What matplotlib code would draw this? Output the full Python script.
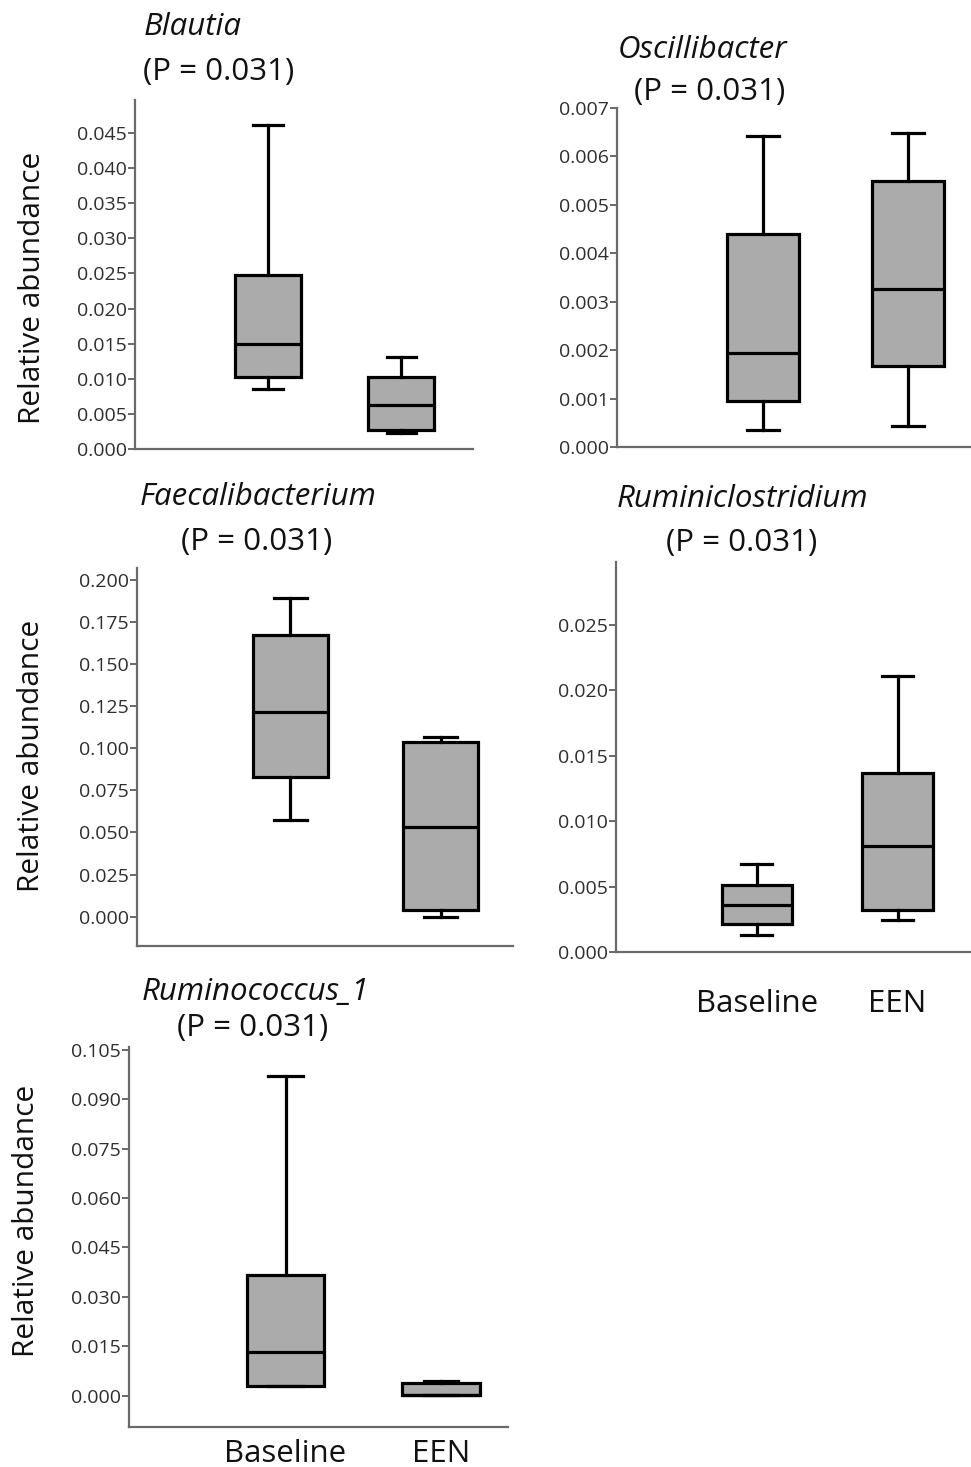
import numpy as np
import matplotlib.pyplot as plt

plt.rcParams['font.family'] = ['Open Sans', 'DejaVu Sans']

W, H = 971, 1467

groups = ["Baseline", "EEN"]
genera = ["Blautia", "Oscillibacter", "Faecalibacterium", "Ruminiclostridium", "Ruminococcus_1"]
p_label = "(P = 0.031)"

# five-number summaries: whislo, q1, median, q3, whishi
blautia_base = [0.0085, 0.0103, 0.0150, 0.0248, 0.0461]
blautia_een = [0.0023, 0.0027, 0.0063, 0.0102, 0.0131]
oscill_base = [0.00036, 0.00096, 0.00195, 0.00439, 0.00643]
oscill_een = [0.00043, 0.00167, 0.00326, 0.00549, 0.00649]
faecali_base = [0.0574, 0.0831, 0.1217, 0.1669, 0.1890]
faecali_een = [0.0000, 0.0040, 0.0534, 0.1036, 0.1065]
rumini_base = [0.00131, 0.00213, 0.00360, 0.00514, 0.00675]
rumini_een = [0.00246, 0.00320, 0.00811, 0.01371, 0.02112]
rumino_base = [0.0029, 0.0030, 0.01325, 0.0367, 0.0969]
rumino_een = [0.0001, 0.0002, 0.0002, 0.0040, 0.0044]

# y tick values per panel
yticks_blautia = [0.000, 0.005, 0.010, 0.015, 0.020, 0.025, 0.030, 0.035, 0.040, 0.045]
yticks_oscill = [0.000, 0.001, 0.002, 0.003, 0.004, 0.005, 0.006, 0.007]
yticks_faecali = [0.000, 0.025, 0.050, 0.075, 0.100, 0.125, 0.150, 0.175, 0.200]
yticks_rumini = [0.000, 0.005, 0.010, 0.015, 0.020, 0.025]
yticks_rumino = [0.000, 0.015, 0.030, 0.045, 0.060, 0.075, 0.090, 0.105]

fig = plt.figure(figsize=(W / 100, H / 100), dpi=100)


def px_axes(l, t, r, b):
    return fig.add_axes([l / W, 1 - b / H, (r - l) / W, (b - t) / H])


def px_text(x, y, s, **kw):
    fig.text(x / W, 1 - y / H, s, ha='center', va='center', **kw)


def to_stats(vals):
    lo, q1, med, q3, hi = vals
    return dict(whislo=lo, q1=q1, med=med, q3=q3, whishi=hi, fliers=[])


def draw_panel(ax, base, een, yticks, ylim, xlim, xlabels=False, pad=10):
    line = dict(color='black', linewidth=2.3)
    ax.bxp([to_stats(base), to_stats(een)], positions=[1, 2], widths=0.5,
           patch_artist=True, showfliers=False, manage_ticks=False, capwidths=0.22,
           boxprops=dict(facecolor='#ababab', edgecolor='black', linewidth=2.3),
           whiskerprops=line, capprops=line, medianprops=line)
    ax.set_ylim(*ylim)
    ax.set_xlim(*xlim)
    ax.set_yticks(yticks)
    ax.set_yticklabels(["%.3f" % v for v in yticks])
    for s in ['top', 'right']:
        ax.spines[s].set_visible(False)
    for s in ['left', 'bottom']:
        ax.spines[s].set_color('#6a6a6a')
        ax.spines[s].set_linewidth(1.6)
    ax.tick_params(axis='y', length=5, width=1.4, color='#6a6a6a', labelsize=14,
                   labelcolor='#2e2e2e', pad=1)
    if xlabels:
        ax.set_xticks([1, 2])
        ax.set_xticklabels(groups)
        ax.tick_params(axis='x', length=0, labelsize=22.5, labelcolor='#111111', pad=pad)
    else:
        ax.set_xticks([])


ax1 = px_axes(135, 100, 473, 449)
draw_panel(ax1, blautia_base, blautia_een, yticks_blautia, (0, 0.0497), (0, 2.54))

ax2 = px_axes(617, 108, 970, 447)
draw_panel(ax2, oscill_base, oscill_een, yticks_oscill, (0, 0.007), (-0.007, 2.43))

ax3 = px_axes(137, 568, 513, 946)
draw_panel(ax3, faecali_base, faecali_een, yticks_faecali, (-0.0174, 0.2069), (-0.02, 2.48))

ax4 = px_axes(616, 562, 970, 952)
draw_panel(ax4, rumini_base, rumini_een, yticks_rumini, (0, 0.0298), (0, 2.515),
           xlabels=True, pad=27)

ax5 = px_axes(129, 1047, 508, 1427)
draw_panel(ax5, rumino_base, rumino_een, yticks_rumino, (-0.0095, 0.1058), (-0.006, 2.43),
           xlabels=True, pad=9)

# titles
title_xy = [(193, 27), (703, 50), (258, 497), (742, 499), (255, 992)]
p_xy = [(219, 72), (710, 92), (257, 542), (742, 543), (253, 1028)]
for name, (tx, ty), (px, py) in zip(genera, title_xy, p_xy):
    px_text(tx, ty, name, fontsize=22.5, style='italic', color='#111111')
    px_text(px, py, p_label, fontsize=22.5, color='#111111')

# y axis labels
for (lx, ly) in [(33, 288), (32, 756), (27, 1221)]:
    px_text(lx, ly, "Relative abundance", fontsize=21.5, rotation=90, color='#111111')

fig.savefig("out.png", dpi=100)
